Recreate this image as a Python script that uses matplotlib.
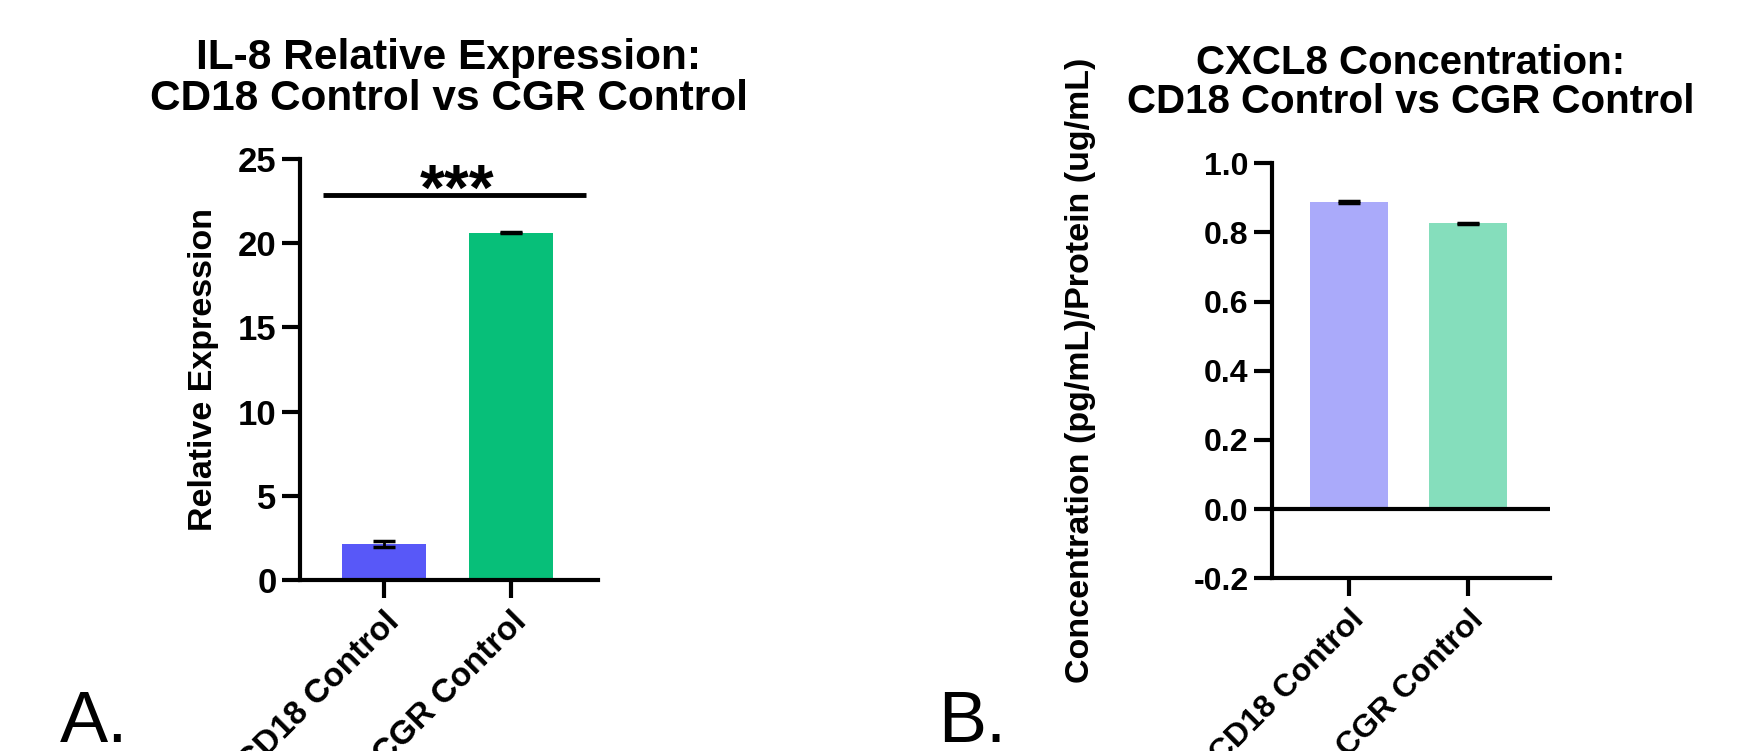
import numpy as np
import matplotlib
matplotlib.use("Agg")
from matplotlib import pyplot as plt

plt.rcParams['font.family'] = ['Liberation Sans', 'DejaVu Sans']
plt.rcParams['font.weight'] = 'bold'
plt.rcParams['axes.labelweight'] = 'bold'
plt.rcParams['axes.unicode_minus'] = False

## data
groups = ['CD18 Control', 'CGR Control']
il8_mean = [2.14, 20.62]
il8_err = [0.19, 0.03]
cxcl8_mean = [0.889, 0.826]
cxcl8_err = [0.003, 0.002]
il8_ticks = [0, 5, 10, 15, 20, 25]
cxcl8_ticks = [-0.2, 0.0, 0.2, 0.4, 0.6, 0.8, 1.0]

colors_a = ['#5858F8', '#07BF79']
colors_b = ['#AAAAFA', '#85DEBC']

W, H = 1754, 751
fig = plt.figure(figsize=(W/100, H/100), dpi=100)

def style_axis(ax, fs):
    for s in ['top', 'right']:
        ax.spines[s].set_visible(False)
    for s in ['left', 'bottom']:
        ax.spines[s].set_linewidth(3)
    ax.tick_params(width=3, length=13, labelsize=fs, pad=4, color='black')
    ax.tick_params(axis='x', pad=6)

x = np.arange(len(groups))

############ panel A
axA = fig.add_axes([300/W, (H-580)/H, 298/W, 421/H])
axA.bar(x, il8_mean, width=0.66, color=colors_a, zorder=2)
axA.errorbar(x, il8_mean, yerr=il8_err, fmt='none', ecolor='black',
             elinewidth=2, capsize=8, capthick=2.5, zorder=3)
axA.set_xlim(-0.66, 1.685)
axA.set_ylim(0, 25)
axA.set_yticks(il8_ticks)
axA.set_xticks(x)
axA.set_xticklabels(groups, rotation=45, ha='right', rotation_mode='anchor')
style_axis(axA, 25)
axA.tick_params(axis='x', labelsize=24)
axA.set_ylabel('Relative Expression', fontsize=24.5)
axA.yaxis.set_label_coords(-0.272, 0.5)
axA.set_title('IL-8 Relative Expression:\nCD18 Control vs CGR Control',
              fontsize=30.5, fontweight='bold', pad=35, linespacing=1.05)
## significance bar
axA.plot([-0.48, 1.59], [22.86, 22.86], color='black', lw=3.5, solid_capstyle='butt', clip_on=False)
axA.text(0.575, 22.0, '***', ha='center', va='baseline', fontsize=46, fontweight='bold')

############ panel B
axB = fig.add_axes([1272/W, (H-578.3)/H, 278/W, 415/H])
axB.bar(x, cxcl8_mean, width=0.66, color=colors_b, zorder=2)
axB.errorbar(x, cxcl8_mean, yerr=cxcl8_err, fmt='none', ecolor='black',
             elinewidth=2, capsize=8, capthick=2.5, zorder=3)
axB.axhline(0, color='black', lw=3, zorder=4)
axB.set_xlim(-0.65, 1.69)
axB.set_ylim(-0.2, 1.0)
axB.set_yticks(cxcl8_ticks)
axB.set_yticklabels(['%.1f' % t for t in cxcl8_ticks])
axB.set_xticks(x)
axB.set_xticklabels(groups, rotation=45, ha='right', rotation_mode='anchor')
style_axis(axB, 23)
axB.set_ylabel('Concentration (pg/mL)/Protein (ug/mL)', fontsize=24.5)
axB.yaxis.set_label_coords(-0.633, 0.5)
axB.set_title('CXCL8 Concentration:\nCD18 Control vs CGR Control',
              fontsize=29, fontweight='bold', pad=36, linespacing=1.05)

## panel letters
fig.text(60/W, (H-742)/H, 'A.', fontsize=52, fontweight='normal', ha='left', va='baseline')
fig.text(938/W, (H-742)/H, 'B.', fontsize=52, fontweight='normal', ha='left', va='baseline')

fig.savefig('out.png', dpi=100)
